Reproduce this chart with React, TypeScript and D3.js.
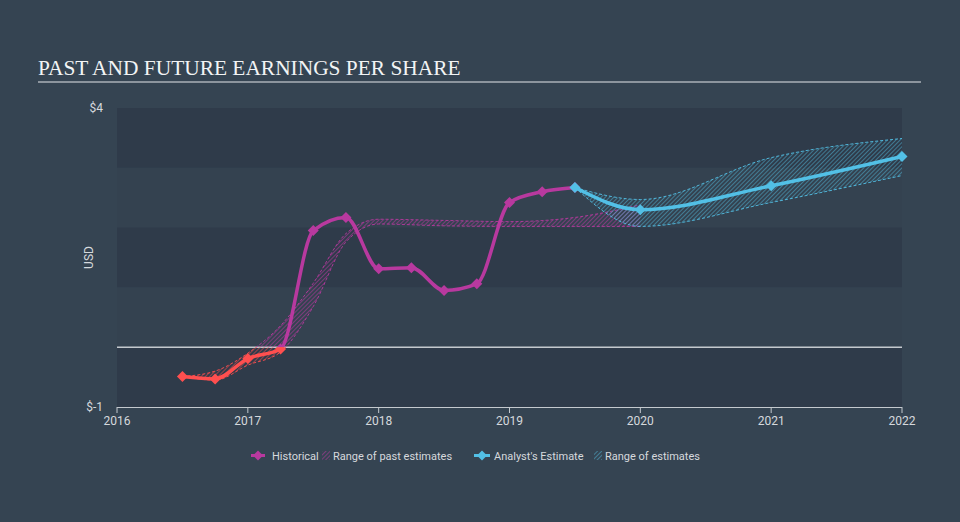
import React from "react";
import * as d3 from "d3";

const histDates = [2016.5, 2016.75, 2017.0, 2017.25, 2017.5, 2017.75, 2018.0, 2018.25, 2018.5, 2018.75, 2019.0, 2019.25, 2019.5];
const histEps = [-0.49, -0.53, -0.19, -0.03, 1.95, 2.17, 1.31, 1.33, 0.95, 1.06, 2.42, 2.6, 2.67];

const pastRangeDates = [2016.5, 2016.75, 2017.0, 2017.25, 2017.5, 2017.75, 2018.0, 2018.5, 2019.0, 2019.5, 2020.0];
const pastRangeHigh = [-0.49, -0.4, -0.1, 0.36, 1.07, 1.9, 2.14, 2.12, 2.1, 2.17, 2.38];
const pastRangeLow = [-0.49, -0.55, -0.3, -0.08, 0.68, 1.76, 2.06, 2.03, 2.02, 2.02, 2.02];

const estDates = [2019.5, 2020.0, 2021.0, 2022.0];
const estEps = [2.67, 2.3, 2.7, 3.19];
const estHigh = [2.67, 2.47, 3.17, 3.49];
const estLow = [2.67, 2.02, 2.42, 2.87];

const xTicks = [2016, 2017, 2018, 2019, 2020, 2021, 2022];
const yTickLabels = [
  { v: 4, label: "$4" },
  { v: -1, label: "$-1" },
];
const bandRanges = [
  [3, 4, "dark"],
  [2, 3, "light"],
  [1, 2, "dark"],
  [0, 1, "light"],
  [-1, 0, "dark"],
];

const BG = "#354452";
const DARK = "#2f3b4a";
const LIGHT = "#344250";
const MAGENTA = "#b8399f";
const RED = "#ff4f4f";
const CYAN = "#52c0e6";
const TXT = "#d5d9dd";

export default function App() {
  const x = d3.scaleLinear().domain([2016, 2022]).range([117, 902]);
  const y = d3.scaleLinear().domain([-1, 4]).range([407, 108]);
  const y0 = y(0);

  const line = d3
    .line<[number, number]>()
    .x((d) => x(d[0]))
    .y((d) => y(d[1]))
    .curve(d3.curveMonotoneX);
  const area = d3
    .area<[number, number, number]>()
    .x((d) => x(d[0]))
    .y0((d) => y(d[2]))
    .y1((d) => y(d[1]))
    .curve(d3.curveMonotoneX);

  const histPts: [number, number][] = histDates.map((d, i) => [d, histEps[i]]);
  const estPts: [number, number][] = estDates.map((d, i) => [d, estEps[i]]);
  const pastBand: [number, number, number][] = pastRangeDates.map((d, i) => [d, pastRangeHigh[i], pastRangeLow[i]]);
  const estBand: [number, number, number][] = estDates.map((d, i) => [d, estHigh[i], estLow[i]]);
  const pastHighLine: [number, number][] = pastRangeDates.map((d, i) => [d, pastRangeHigh[i]]);
  const pastLowLine: [number, number][] = pastRangeDates.map((d, i) => [d, pastRangeLow[i]]);
  const estHighLine: [number, number][] = estDates.map((d, i) => [d, estHigh[i]]);
  const estLowLine: [number, number][] = estDates.map((d, i) => [d, estLow[i]]);

  const diamond = (cx: number, cy: number, r: number) =>
    `M${cx},${cy - r}L${cx + r},${cy}L${cx},${cy + r}L${cx - r},${cy}Z`;

  const pastLayer = (color: string, pat: string) => (
    <g>
      <path d={area(pastBand) || ""} fill={`url(#${pat})`} />
      <path d={line(pastHighLine) || ""} fill="none" stroke={color} strokeWidth={1} strokeDasharray="3,2" opacity={0.9} />
      <path d={line(pastLowLine) || ""} fill="none" stroke={color} strokeWidth={1} strokeDasharray="3,2" opacity={0.9} />
    </g>
  );
  const histLayer = (color: string) => (
    <g>
      <path d={line(histPts) || ""} fill="none" stroke={color} strokeWidth={3.5} />
      {histPts.map((p, i) => (
        <path key={i} d={diamond(x(p[0]), y(p[1]), 5.5)} fill={color} />
      ))}
    </g>
  );

  return (
    <div style={{ position: "fixed", left: 0, top: 0, width: 960, height: 522, background: BG }}>
      <svg width={960} height={522} style={{ display: "block" }} fontFamily="Roboto, 'Liberation Sans', Arial, sans-serif">
        <defs>
          <pattern id="hatchM" patternUnits="userSpaceOnUse" width={3} height={3} patternTransform="rotate(45)">
            <line x1={0} y1={0} x2={0} y2={3} stroke={MAGENTA} strokeWidth={1.1} />
          </pattern>
          <pattern id="hatchR" patternUnits="userSpaceOnUse" width={3} height={3} patternTransform="rotate(45)">
            <line x1={0} y1={0} x2={0} y2={3} stroke={RED} strokeWidth={1.1} opacity={0.9} />
          </pattern>
          <pattern id="hatchC" patternUnits="userSpaceOnUse" width={3} height={3} patternTransform="rotate(45)">
            <line x1={0} y1={0} x2={0} y2={3} stroke={CYAN} strokeWidth={1.1} opacity={0.85} />
          </pattern>
          <clipPath id="above">
            <rect x={0} y={0} width={960} height={y0} />
          </clipPath>
          <clipPath id="below">
            <rect x={0} y={y0} width={960} height={522 - y0} />
          </clipPath>
        </defs>

        <rect x={0} y={0} width={960} height={522} fill={BG} />

        <text x={38} y={75} fontFamily="'Liberation Serif', 'Times New Roman', serif" fontSize={21.4} fill="#f2f4f5">
          PAST AND FUTURE EARNINGS PER SHARE
        </text>
        <line x1={38} x2={921} y1={82} y2={82} stroke="#aab1b8" strokeWidth={1.5} />

        {bandRanges.map((b, i) => (
          <rect
            key={i}
            x={x(2016)}
            width={x(2022) - x(2016)}
            y={y(b[1] as number)}
            height={y(b[0] as number) - y(b[1] as number)}
            fill={b[2] === "dark" ? DARK : LIGHT}
          />
        ))}

        <line x1={x(2016)} x2={x(2022)} y1={y0} y2={y0} stroke="#c4c9ce" strokeWidth={1.5} />

        {yTickLabels.map((t) => (
          <text key={t.v} x={103} y={y(t.v) + 4} textAnchor="end" fontSize={12} fill={TXT}>
            {t.label}
          </text>
        ))}
        <text transform={`translate(93,${(y(4) + y(-1)) / 2}) rotate(-90)`} textAnchor="middle" fontSize={12} fill={TXT}>
          USD
        </text>

        <line x1={x(2016)} x2={x(2022)} y1={407.5} y2={407.5} stroke="#c4c9ce" strokeWidth={1} />
        {xTicks.map((t) => (
          <g key={t}>
            <line x1={x(t)} x2={x(t)} y1={407} y2={413} stroke="#c4c9ce" strokeWidth={1} />
            <text x={x(t)} y={425} textAnchor="middle" fontSize={12} fill={TXT}>
              {t}
            </text>
          </g>
        ))}

        <g clipPath="url(#above)">{pastLayer(MAGENTA, "hatchM")}</g>
        <g clipPath="url(#below)">{pastLayer(RED, "hatchR")}</g>

        <path d={area(estBand) || ""} fill="url(#hatchC)" />
        <path d={line(estHighLine) || ""} fill="none" stroke={CYAN} strokeWidth={1} strokeDasharray="3,2" opacity={0.9} />
        <path d={line(estLowLine) || ""} fill="none" stroke={CYAN} strokeWidth={1} strokeDasharray="3,2" opacity={0.9} />

        <g clipPath="url(#above)">{histLayer(MAGENTA)}</g>
        <g clipPath="url(#below)">{histLayer(RED)}</g>

        <path d={line(estPts) || ""} fill="none" stroke={CYAN} strokeWidth={3.5} />
        {estPts.map((p, i) => (
          <path key={i} d={diamond(x(p[0]), y(p[1]), 5.5)} fill={CYAN} />
        ))}

        <g fontSize={11} fill={TXT}>
          <line x1={251} x2={265} y1={455.5} y2={455.5} stroke={MAGENTA} strokeWidth={3} />
          <path d={diamond(258, 455.5, 5)} fill={MAGENTA} />
          <text x={272} y={459.5}>Historical</text>
          <rect x={322} y={451} width={8} height={9} fill="url(#hatchM)" />
          <text x={333} y={459.5}>Range of past estimates</text>

          <line x1={474} x2={490} y1={455.5} y2={455.5} stroke={CYAN} strokeWidth={3} />
          <path d={diamond(482, 455.5, 5)} fill={CYAN} />
          <text x={494} y={459.5}>Analyst's Estimate</text>
          <rect x={594} y={451} width={8} height={9} fill="url(#hatchC)" />
          <text x={605} y={459.5}>Range of estimates</text>
        </g>
      </svg>
    </div>
  );
}
